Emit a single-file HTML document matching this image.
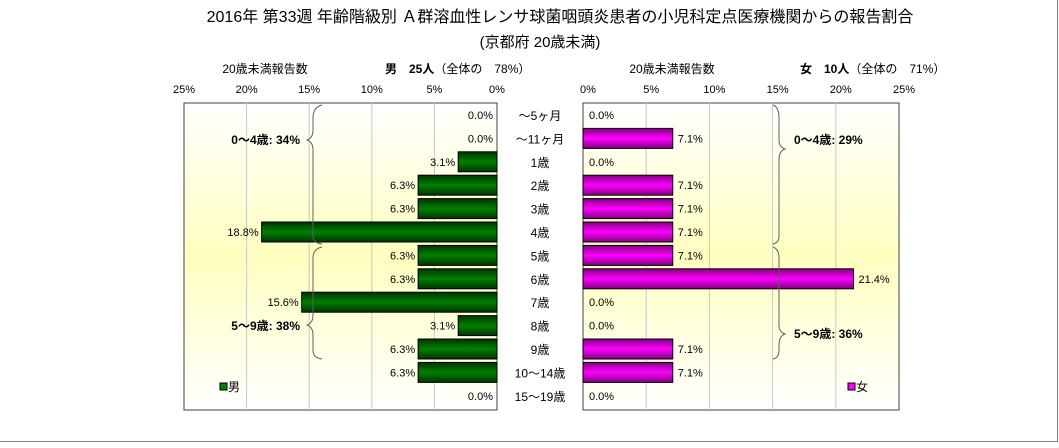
<!DOCTYPE html>
<html><head><meta charset="utf-8"><style>
body{margin:0;background:#fff;}
svg text{font-family:"Liberation Sans","Noto Sans CJK JP",sans-serif;}
</style></head><body>
<svg width="1059" height="443" viewBox="0 0 1059 443" xmlns="http://www.w3.org/2000/svg">
<defs>
<linearGradient id="bg" x1="0" y1="0" x2="0" y2="1"><stop offset="0" stop-color="#ffffff"/><stop offset="0.5" stop-color="#ffffc0"/><stop offset="1" stop-color="#ffffff"/></linearGradient>
<linearGradient id="gr" x1="0" y1="0" x2="0" y2="1"><stop offset="0" stop-color="#003300"/><stop offset="0.5" stop-color="#008000"/><stop offset="1" stop-color="#003300"/></linearGradient>
<linearGradient id="mg" x1="0" y1="0" x2="0" y2="1"><stop offset="0" stop-color="#800080"/><stop offset="0.5" stop-color="#ff00ff"/><stop offset="1" stop-color="#800080"/></linearGradient>
</defs>
<path d="M1057.5 0 L1057.5 441.5 L0 441.5" fill="none" stroke="#808080"/>
<text x="560" y="22" font-size="16" text-anchor="middle">2016年 第33週 年齢階級別 Ａ群溶血性レンサ球菌咽頭炎患者の小児科定点医療機関からの報告割合</text>
<text x="540" y="47" font-size="15" text-anchor="middle">(京都府 20歳未満)</text>
<text x="265" y="73" font-size="12" text-anchor="middle">20歳未満報告数</text>
<text x="385" y="73" font-size="12"><tspan font-weight="bold">男　25人</tspan>（全体の　78%）</text>
<text x="672" y="73" font-size="12" text-anchor="middle">20歳未満報告数</text>
<text x="800" y="73" font-size="12"><tspan font-weight="bold">女　10人</tspan>（全体の　71%）</text>
<rect x="184" y="103" width="313" height="307" fill="url(#bg)" stroke="#404040"/>
<rect x="583" y="103" width="316" height="307" fill="url(#bg)" stroke="#404040"/>
<g id="grid"></g><g id="bars"></g><g id="labels"></g>
<g fill="none" stroke="#606060" stroke-width="1">
<path d="M322 105 Q313 107 313 118 L313 130 Q313 138 307 140 Q313 142 313 150 L313 236 Q313 243 322 244"/>
<path d="M322 247 Q313 249 313 258 L313 315 Q313 323 307 325 Q313 327 313 335 L313 350 Q313 358 322 359"/>
<path d="M773 105 Q779 107 779 118 L779 140 Q779 147 785 149 Q779 151 779 160 L779 236 Q779 243 773 244"/>
<path d="M773 247 Q779 249 779 258 L779 325 Q779 332 785 334 Q779 336 779 345 L779 350 Q779 358 773 359"/>
</g>
<text x="300" y="144" font-size="12" font-weight="bold" text-anchor="end">0〜4歳: 34%</text>
<text x="300" y="330" font-size="12" font-weight="bold" text-anchor="end">5〜9歳: 38%</text>
<text x="794" y="144" font-size="12" font-weight="bold">0〜4歳: 29%</text>
<text x="794" y="338" font-size="12" font-weight="bold">5〜9歳: 36%</text>
<rect x="220" y="383" width="7" height="7" fill="#008000" stroke="#000"/>
<text x="228" y="391" font-size="12">男</text>
<rect x="848" y="383" width="7" height="7" fill="#ff00ff" stroke="#000"/>
<text x="856" y="391" font-size="12">女</text>
</svg>
<script>
const categories=["〜5ヶ月","〜11ヶ月","1歳","2歳","3歳","4歳","5歳","6歳","7歳","8歳","9歳","10〜14歳","15〜19歳"];
const maleValues=[0.0,0.0,3.1,6.3,6.3,18.8,6.3,6.3,15.6,3.1,6.3,6.3,0.0];
const femaleValues=[0.0,7.1,0.0,7.1,7.1,7.1,7.1,21.4,0.0,0.0,7.1,7.1,0.0];
const tickValues=[0,5,10,15,20,25];
const NS="http://www.w3.org/2000/svg";
const L0=497,LS=12.52,R0=583,RS=12.64;
const xL=v=>L0-v*LS, xR=v=>R0+v*RS;
const yC=i=>115+i*23.4;
function mk(tag,attrs,parent,txt){const e=document.createElementNS(NS,tag);for(const k in attrs)e.setAttribute(k,attrs[k]);if(txt!==undefined)e.textContent=txt;document.getElementById(parent).appendChild(e);return e;}
tickValues.forEach(t=>{
  if(t>0&&t<25){
    let g=mk('line',{x1:xL(t),x2:xL(t),y1:103,y2:410,stroke:'#c8c8c8'},'grid');
    
    
    let h=mk('line',{x1:xR(t),x2:xR(t),y1:103,y2:410,stroke:'#c8c8c8'},'grid');
    
    
  }
  let a=mk('text',{x:xL(t),y:93,'font-size':11,'text-anchor':'middle'},'labels',t+'%');
  
  
  let b=mk('text',{x:xR(t)+5,y:93,'font-size':11,'text-anchor':'middle'},'labels',t+'%');
  
  
});
categories.forEach((c,i)=>{
  const y=Math.min(yC(i),401);
  let t=mk('text',{x:540,y:y+5,'font-size':12,'text-anchor':'middle'},'labels',c);
  
  
  const m=maleValues[i],f=femaleValues[i];
  if(m>0){
    let r=mk('rect',{x:xL(m),y:y-10,width:L0-xL(m),height:20,fill:'url(#gr)',stroke:'#000'},'bars');
    
    
  }
  let ml=mk('text',{x:(m>0?xL(m)-3:L0-4),y:y+4,'font-size':11,'text-anchor':'end'},'labels',m.toFixed(1)+'%');
  
  
  if(f>0){
    let r=mk('rect',{x:R0,y:y-10,width:xR(f)-R0,height:20,fill:'url(#mg)',stroke:'#000'},'bars');
    
    
  }
  let fl=mk('text',{x:(f>0?xR(f)+5:R0+6),y:y+4,'font-size':11},'labels',f.toFixed(1)+'%');
  
  
});
</script>
</body></html>
